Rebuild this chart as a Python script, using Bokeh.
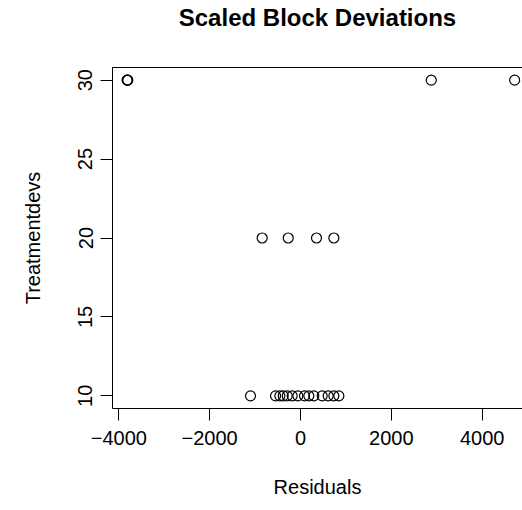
from bokeh.plotting import figure
from bokeh.models import Range1d, FixedTicker, LinearAxis
from bokeh.embed import file_html
from bokeh.resources import INLINE

# Data (Residuals vs Treatmentdevs)
residuals_at_30 = [-3818, -3810, -3802, 2878, 4714]
residuals_at_20 = [-844, -271, 352, 734]
residuals_at_10 = [-1101, -550, -455, -381, -293, -183, -59, 88, 183, 293, 477, 609, 734, 844]
treatment_levels = [30, 20, 10]

x_ticks = [-4000, -2000, 0, 2000, 4000]
x_tick_labels = ["\u22124000", "\u22122000", "0", "2000", "4000"]
y_ticks = [10, 15, 20, 25, 30]
y_tick_labels = ["10", "15", "20", "25", "30"]

title_text = "Scaled Block Deviations"
x_label = "Residuals"
y_label = "Treatmentdevs"

groups = [residuals_at_30, residuals_at_20, residuals_at_10]
xs, ys = [], []
for lvl, vals in zip(treatment_levels, groups):
    xs.extend(vals)
    ys.extend([lvl] * len(vals))

FONT = "Liberation Sans"
y_start, y_end = 9.2, 30.8

p = figure(width=522, height=510, output_backend="svg", toolbar_location=None,
           x_range=Range1d(-4139, 4887), y_range=Range1d(y_start, y_end),
           min_border_left=112, min_border_right=0, min_border_top=67,
           min_border_bottom=102)

p.outline_line_color = None
p.xgrid.visible = False
p.ygrid.visible = False
p.background_fill_color = "white"
p.border_fill_color = "white"

xax = p.below[0]
yax = p.left[0]

xax.ticker = FixedTicker(ticks=x_ticks)
yax.ticker = FixedTicker(ticks=y_ticks)
xax.major_label_overrides = dict(zip(x_ticks, x_tick_labels))
yax.major_label_overrides = dict(zip(y_ticks, y_tick_labels))
xax.axis_label = x_label
yax.axis_label = y_label
yax.major_label_orientation = "vertical"

for ax in (xax, yax):
    ax.axis_line_color = "black"
    ax.axis_line_width = 1
    ax.major_tick_line_color = "black"
    ax.major_tick_out = 12
    ax.major_tick_in = 0
    ax.minor_tick_line_color = None
    ax.major_label_text_font = FONT
    ax.major_label_text_font_size = "20px"
    ax.major_label_text_color = "black"
    ax.axis_label_text_font = FONT
    ax.axis_label_text_font_size = "20px"
    ax.axis_label_text_font_style = "normal"
    ax.axis_label_text_color = "black"

xax.major_label_standoff = 10
xax.axis_label_standoff = 28
yax.major_label_standoff = 8
yax.axis_label_standoff = 32

# top edge of the plot box (its right edge lies outside the window in the reference),
# carrying the main title as its label
top_edge = LinearAxis(ticker=FixedTicker(ticks=[]), major_tick_out=0, major_tick_in=0,
                      minor_tick_out=0, minor_tick_in=0,
                      axis_line_color="black", axis_line_width=1,
                      axis_label=title_text, axis_label_text_font=FONT,
                      axis_label_text_font_size="24px", axis_label_text_font_style="bold",
                      axis_label_text_color="black", axis_label_standoff=37)
p.add_layout(top_edge, "above")

p.scatter(x=xs, y=ys, marker="circle", size=10, fill_color=None,
          line_color="black", line_width=1.2)

open("out.html", "w").write(file_html(p, INLINE))
